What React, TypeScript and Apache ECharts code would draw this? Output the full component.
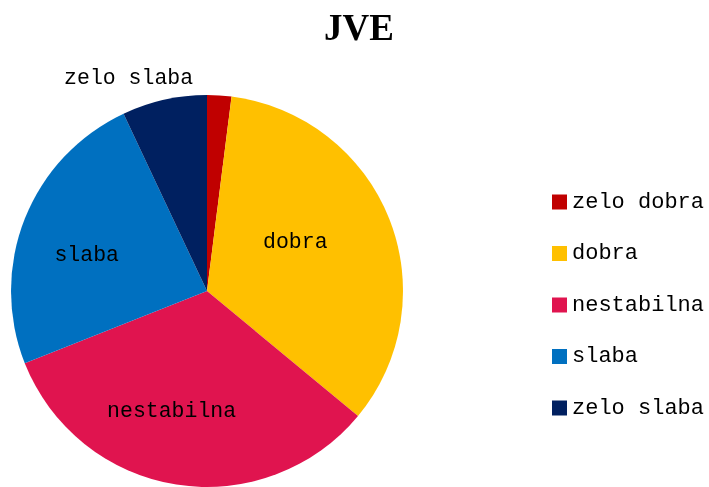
import React, { useEffect, useRef } from "react";
import * as echarts from "echarts";

const categories = ["zelo dobra", "dobra", "nestabilna", "slaba", "zelo slaba"];
const values = [2, 34, 33, 24, 7];
const colors = ["#C00000", "#FFC000", "#E0144F", "#0070C0", "#002060"];
const insideLabelled = ["dobra", "nestabilna", "slaba"];
const outsideLabelled = ["zelo slaba"];

export default function App() {
  const ref = useRef<HTMLDivElement>(null);
  useEffect(() => {
    if (!ref.current) return;
    const chart = echarts.init(ref.current, null, { renderer: "svg" });
    const labelFont = { fontFamily: "Liberation Mono", fontSize: 21.5, color: "#000" };
    const labelNudge: Record<number, [number, number]> = { 1: [-27, -3], 2: [-16, -2], 3: [-5, 10] };
    const mainData = categories.map((c, i) => ({ name: c, value: values[i], itemStyle: { color: colors[i] } }));
    const insideData = categories.map((c, i) => ({
      name: c,
      value: values[i],
      label: { show: insideLabelled.includes(c) },
    }));
    const outsideData = categories.map((c, i) => ({
      name: c,
      value: values[i],
      label: { show: outsideLabelled.includes(c) },
    }));
    chart.setOption({
      animation: false,
      title: {
        text: "JVE",
        left: 319,
        top: 4,
        textStyle: { fontFamily: "Liberation Serif", fontWeight: "bold", fontSize: 37, color: "#000" },
      },
      legend: {
        orient: "vertical",
        left: 547,
        top: 186,
        icon: "rect",
        itemWidth: 15,
        itemHeight: 15,
        itemGap: 29.5,
        data: categories,
        textStyle: { fontFamily: "Liberation Mono", fontSize: 22, color: "#000", lineHeight: 21, padding: [0, 0, 0, 0] },
      },
      series: [
        {
          type: "pie",
          name: "main",
          center: [207, 291],
          radius: 196,
          startAngle: 90,
          clockwise: true,
          label: { show: false },
          labelLine: { show: false },
          data: mainData,
        },
        {
          type: "pie",
          name: "insideLabels",
          center: [207, 291],
          radius: 242,
          startAngle: 90,
          clockwise: true,
          silent: true,
          itemStyle: { color: "rgba(0,0,0,0)" },
          label: { position: "inside", formatter: "{b}", ...labelFont },
          labelLine: { show: false },
          legendHoverLink: false,
          labelLayout: (p: any) => {
            const n = labelNudge[p.dataIndex];
            return n ? { dx: n[0], dy: n[1] } : {};
          },
          data: insideData,
        },
        {
          type: "pie",
          name: "outsideLabels",
          center: [207, 291],
          radius: 456,
          startAngle: 90,
          clockwise: true,
          silent: true,
          itemStyle: { color: "rgba(0,0,0,0)" },
          label: { position: "inside", formatter: "{b}", ...labelFont },
          labelLine: { show: false },
          labelLayout: () => ({ dx: -28, dy: 12 }),
          data: outsideData,
        },
      ],
    });
    return () => chart.dispose();
  }, []);
  return <div ref={ref} style={{ position: "fixed", left: 0, top: 0, width: 709, height: 487 }} />;
}
